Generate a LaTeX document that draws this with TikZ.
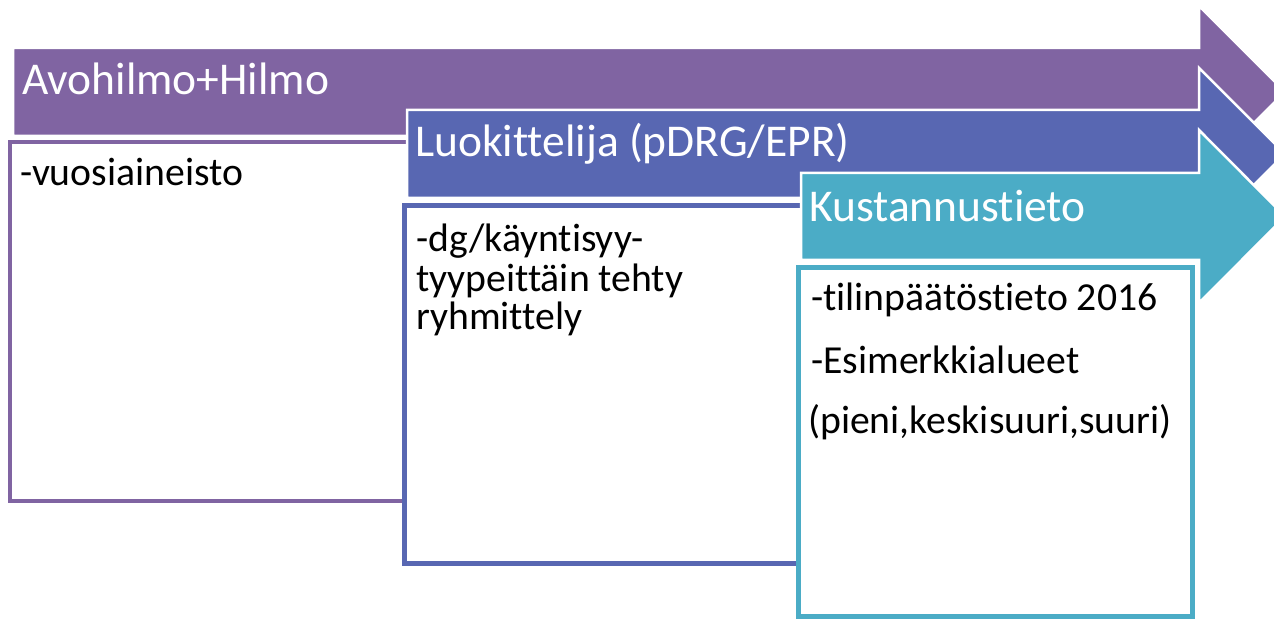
\documentclass[tikz,border=0pt]{standalone}
\usepackage{fontspec}
\setmainfont{Carlito}[Ligatures={NoCommon,NoContextual}]
\definecolor{cpurple}{HTML}{8064A2}
\definecolor{cblue}{HTML}{5867B2}
\definecolor{cteal}{HTML}{4BACC6}
\tikzset{
  arrowshape/.style={draw=white, line width=2.5pt, line join=miter},
  listbox/.style={line width=4.5pt, line join=miter},
  headtext/.style={anchor=base west, inner sep=0pt, text=white, font=\fontsize{45.5}{54}\selectfont},
  bodytext/.style={anchor=base west, inner sep=0pt, text=black, font=\fontsize{39.7}{40}\selectfont}
}
\begin{document}
\begin{tikzpicture}[x=1pt,y=-1pt]
\useasboundingbox (0,0) rectangle (1274,620);
\clip (0,0) rectangle (1274,620);
\fill[white] (0,0) rectangle (1274,620);

% purple arrow and box
\filldraw[arrowshape, fill=cpurple] (13,48) -- (1199,48) -- (1199,6) -- (1285,92) -- (1199,178) -- (1199,136) -- (13,136) -- cycle;
\fill[white] (10,142) rectangle (420,501);
\draw[listbox, draw=cpurple] (420,142) -- (10,142) -- (10,501) -- (420,501);

% blue arrow and box
\filldraw[arrowshape, fill=cblue] (407,110) -- (1199,110) -- (1199,68) -- (1285,154) -- (1199,240) -- (1199,198) -- (407,198) -- cycle;
\fill[white] (404.5,205.5) rectangle (815,563.5);
\draw[listbox, draw=cblue] (815,205.5) -- (404.5,205.5) -- (404.5,563.5) -- (815,563.5);

% teal arrow and box
\filldraw[arrowshape, fill=cteal] (801,173) -- (1199,173) -- (1199,130) -- (1285,216.5) -- (1199,303) -- (1199,260) -- (801,260) -- cycle;
\draw[listbox, draw=cteal, fill=white] (798.5,267.5) rectangle (1192.5,616.5);

% texts
\node[headtext] (h1) at (22,95) {Avohilmo+Hilmo};
\node[bodytext] (b1) at (20,186) {-vuosiaineisto};

\node[headtext] (h2) at (415,157) {Luokittelija (pDRG/EPR)};
\node[bodytext] (b2a) at (416,252) {-dg/käyntisyy-};
\node[bodytext] (b2b) at (416,291) {tyypeittäin tehty};
\node[bodytext] (b2c) at (416,330) {ryhmittely};

\node[headtext] (h3) at (809,222) {Kustannustieto};
\node[bodytext] (b3a) at (811,311) {-tilinpäätöstieto 2016};
\node[bodytext] (b3b) at (811,373) {-Esimerkkialueet};
\node[bodytext] (b3c) at (808,433) {(pieni,keskisuuri,suuri)};
\end{tikzpicture}
\end{document}
